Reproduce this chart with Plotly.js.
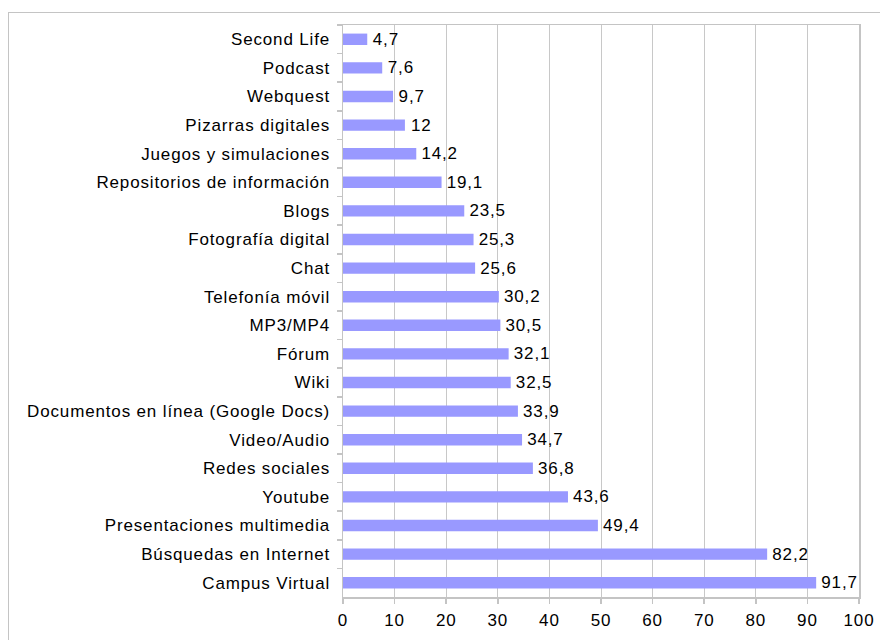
<!DOCTYPE html>
<html>
<head>
<meta charset="utf-8">
<script src="https://cdn.plot.ly/plotly-3.0.1.min.js"></script>
<style>
html, body { margin: 0; padding: 0; background: #fff; overflow: hidden; }
#frame { position: absolute; left: 8px; top: 12px; width: 1000px; height: 1000px; border: 1.5px solid #c4c4c4; box-sizing: border-box; }
#chart { position: absolute; left: 0; top: 0; width: 880px; height: 640px; }
#chart text { letter-spacing: 0.85px; }
</style>
</head>
<body>
<div id="frame"></div>
<div id="chart"></div>
<script>
const categories = [
  "Second Life", "Podcast", "Webquest", "Pizarras digitales", "Juegos y simulaciones",
  "Repositorios de información", "Blogs", "Fotografía digital", "Chat", "Telefonía móvil",
  "MP3/MP4", "Fórum", "Wiki", "Documentos en línea (Google Docs)", "Video/Audio",
  "Redes sociales", "Youtube", "Presentaciones multimedia", "Búsquedas en Internet", "Campus Virtual"
];
const values = [4.7, 7.6, 9.7, 12, 14.2, 19.1, 23.5, 25.3, 25.6, 30.2, 30.5, 32.1, 32.5, 33.9, 34.7, 36.8, 43.6, 49.4, 82.2, 91.7];
const xTicks = [0, 10, 20, 30, 40, 50, 60, 70, 80, 90, 100];

const labels = values.map(v => '\u2009' + String(v).replace('.', ','));

const font = { family: "Liberation Sans, Arial, sans-serif", size: 17, color: "#000" };

Plotly.newPlot('chart', [{
  type: 'bar',
  orientation: 'h',
  y: categories,
  x: values,
  text: labels,
  textposition: 'outside',
  constraintext: 'none',
  cliponaxis: false,
  textfont: font,
  width: 0.4,
  marker: { color: '#9999ff', line: { width: 0 } },
  hoverinfo: 'none'
}], {
  width: 880, height: 640,
  margin: { l: 343, r: 21, t: 25, b: 43 },
  paper_bgcolor: 'rgba(0,0,0,0)',
  plot_bgcolor: '#fff',
  showlegend: false,
  separators: ', ',
  font: font,
  xaxis: {
    range: [0, 100],
    tickvals: xTicks,
    ticktext: xTicks.map(String),
    showgrid: true, gridcolor: '#c8c8c8', gridwidth: 1,
    showline: true, linecolor: '#c4c4c4', linewidth: 1.5, mirror: true,
    ticks: 'outside', ticklen: 5, tickcolor: '#c4c4c4', tickwidth: 1.5,
    zeroline: false,
    tickfont: font,
    ticklabelstandoff: 2,
    fixedrange: true
  },
  yaxis: {
    autorange: 'reversed',
    type: 'category',
    showgrid: false,
    showline: true, linecolor: '#c4c4c4', linewidth: 1.5, mirror: true,
    ticks: 'outside', ticklen: 5, tickcolor: '#c4c4c4', tickwidth: 1.5,
    tickson: 'boundaries',
    ticklabelstandoff: 8,
    tickfont: font,
    fixedrange: true
  }
}, { staticPlot: true });
</script>
</body>
</html>
